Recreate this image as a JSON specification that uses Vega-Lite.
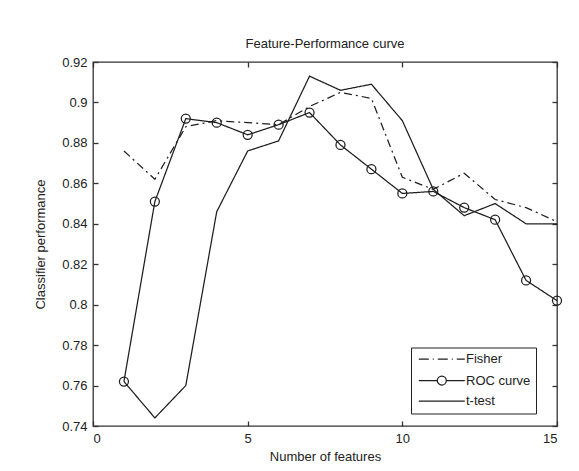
{
  "$schema": "https://vega.github.io/schema/vega-lite/v6.json",
  "width": 464,
  "height": 364,
  "autosize": "none",
  "padding": {"left": 93, "top": 62, "right": 22, "bottom": 45},
  "background": "white",
  "title": {"text": "Feature-Performance curve", "fontSize": 13, "fontWeight": "normal", "font": "Liberation Sans", "color": "#222", "offset": 5, "anchor": "middle"},
  "config": {
    "view": {"stroke": "#333", "strokeWidth": 1.3},
    "axis": {"labelFont": "Liberation Sans", "titleFont": "Liberation Sans", "labelFontSize": 13, "titleFontSize": 13, "titleFontWeight": "normal", "labelColor": "#222", "titleColor": "#222", "tickColor": "#333", "tickWidth": 1.3, "domain": false, "grid": false},
    "legend": {"labelFont": "Liberation Sans", "labelFontSize": 13, "labelColor": "#222"}
  },
  "data": {"values": [
    {"n": 1, "series": "Fisher", "v": 0.876}, {"n": 2, "series": "Fisher", "v": 0.862}, {"n": 3, "series": "Fisher", "v": 0.888}, {"n": 4, "series": "Fisher", "v": 0.891}, {"n": 5, "series": "Fisher", "v": 0.890}, {"n": 6, "series": "Fisher", "v": 0.889}, {"n": 7, "series": "Fisher", "v": 0.898}, {"n": 8, "series": "Fisher", "v": 0.905}, {"n": 9, "series": "Fisher", "v": 0.902}, {"n": 10, "series": "Fisher", "v": 0.863}, {"n": 11, "series": "Fisher", "v": 0.857}, {"n": 12, "series": "Fisher", "v": 0.865}, {"n": 13, "series": "Fisher", "v": 0.852}, {"n": 14, "series": "Fisher", "v": 0.848}, {"n": 15, "series": "Fisher", "v": 0.841},
    {"n": 1, "series": "ROC curve", "v": 0.762}, {"n": 2, "series": "ROC curve", "v": 0.851}, {"n": 3, "series": "ROC curve", "v": 0.892}, {"n": 4, "series": "ROC curve", "v": 0.890}, {"n": 5, "series": "ROC curve", "v": 0.884}, {"n": 6, "series": "ROC curve", "v": 0.889}, {"n": 7, "series": "ROC curve", "v": 0.895}, {"n": 8, "series": "ROC curve", "v": 0.879}, {"n": 9, "series": "ROC curve", "v": 0.867}, {"n": 10, "series": "ROC curve", "v": 0.855}, {"n": 11, "series": "ROC curve", "v": 0.856}, {"n": 12, "series": "ROC curve", "v": 0.848}, {"n": 13, "series": "ROC curve", "v": 0.842}, {"n": 14, "series": "ROC curve", "v": 0.812}, {"n": 15, "series": "ROC curve", "v": 0.802},
    {"n": 1, "series": "t-test", "v": 0.762}, {"n": 2, "series": "t-test", "v": 0.744}, {"n": 3, "series": "t-test", "v": 0.760}, {"n": 4, "series": "t-test", "v": 0.846}, {"n": 5, "series": "t-test", "v": 0.876}, {"n": 6, "series": "t-test", "v": 0.881}, {"n": 7, "series": "t-test", "v": 0.913}, {"n": 8, "series": "t-test", "v": 0.906}, {"n": 9, "series": "t-test", "v": 0.909}, {"n": 10, "series": "t-test", "v": 0.891}, {"n": 11, "series": "t-test", "v": 0.857}, {"n": 12, "series": "t-test", "v": 0.844}, {"n": 13, "series": "t-test", "v": 0.850}, {"n": 14, "series": "t-test", "v": 0.840}, {"n": 15, "series": "t-test", "v": 0.840}
  ]},
  "layer": [
    {
      "mark": {"type": "line", "color": "#1e1e1e", "strokeWidth": 1.25},
      "encoding": {
        "x": {"field": "n", "type": "quantitative", "scale": {"domain": [0, 15], "nice": false, "zero": false},
              "axis": {"orient": "bottom", "values": [0, 5, 10, 15], "tickSize": -5, "labelPadding": 11, "title": "Number of features", "titlePadding": 5}},
        "y": {"field": "v", "type": "quantitative", "scale": {"domain": [0.74, 0.92], "nice": false, "zero": false},
              "axis": {"orient": "left", "values": [0.74, 0.76, 0.78, 0.8, 0.82, 0.84, 0.86, 0.88, 0.9, 0.92], "format": ".2~f", "tickSize": -5, "labelPadding": 11, "title": "Classifier performance", "titlePadding": 14}},
        "strokeDash": {"field": "series", "type": "nominal",
          "scale": {"domain": ["t-test", "ROC curve", "Fisher"], "range": [[1, 0], [1, 0], [8, 4, 2, 4]]},
          "legend": null}
      }
    },
    {
      "transform": [{"filter": "datum.series === 'ROC curve'"}],
      "mark": {"type": "point", "shape": "circle", "filled": false, "color": "#1e1e1e", "size": 81, "strokeWidth": 1.25, "opacity": 1},
      "encoding": {
        "x": {"field": "n", "type": "quantitative", "axis": {"orient": "top", "values": [0, 5, 10, 15], "tickSize": -5, "labels": false, "title": null}},
        "y": {"field": "v", "type": "quantitative", "axis": {"orient": "right", "values": [0.74, 0.76, 0.78, 0.8, 0.82, 0.84, 0.86, 0.88, 0.9, 0.92], "tickSize": -5, "labels": false, "title": null}}
      }
    },
    {
      "transform": [{"filter": "datum.n < 0"}],
      "mark": {"type": "point", "filled": false, "color": "#1e1e1e", "size": 100, "strokeWidth": 1.25, "opacity": 1},
      "encoding": {
        "x": {"field": "n", "type": "quantitative", "axis": null},
        "y": {"field": "v", "type": "quantitative", "axis": null},
        "shape": {"field": "series", "type": "nominal",
          "scale": {"domain": ["Fisher", "ROC curve", "t-test"],
                    "range": ["M-1.14,0H0.86M1.66,0H1.86M2.66,0H4.66M5.46,0H5.66M6.46,0H8.06", "M-1.14,0H2.56M4.36,0H8.06M2.56,0A0.9,0.9,0,1,1,4.36,0A0.9,0.9,0,1,1,2.56,0", "M-1.14,0H8.06"]},
          "legend": {"title": null, "orient": "none", "legendX": 318, "legendY": 285.5, "padding": 5,
                     "strokeColor": "#222", "fillColor": "white", "cornerRadius": 0,
                     "symbolSize": 100, "symbolOffset": 2, "labelOffset": 35, "rowPadding": 6.5, "symbolOpacity": 1,
                     "symbolStrokeColor": "#1e1e1e", "symbolFillColor": "transparent", "symbolStrokeWidth": 1.25}}
      }
    }
  ],
  "resolve": {"axis": {"x": "independent", "y": "independent"}}
}
